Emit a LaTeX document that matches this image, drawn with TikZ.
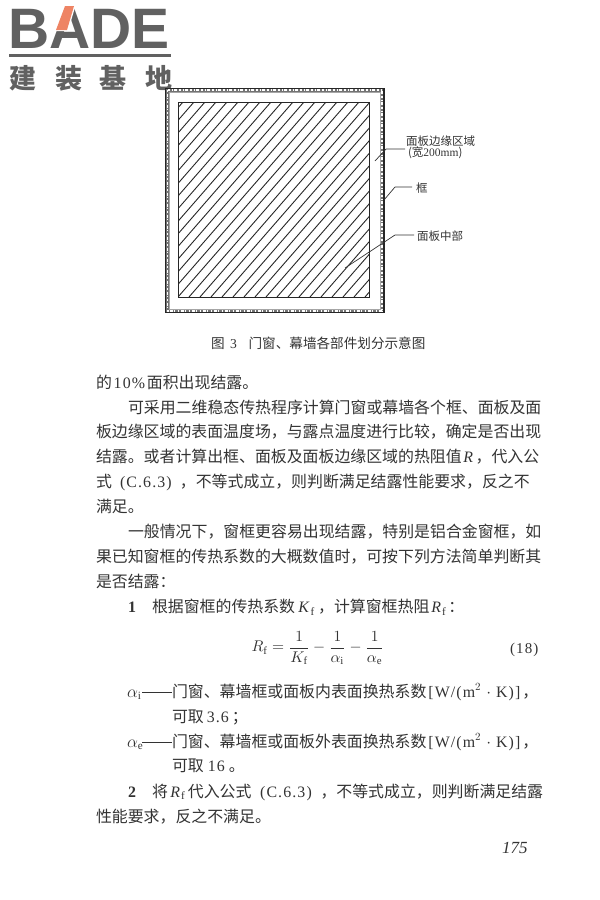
\documentclass[tikz,border=0pt]{standalone}
\usepackage{amsmath}
\usepackage{fontspec}
\setmainfont{Noto Sans CJK SC}
\newfontfamily\latinf{Liberation Serif}
\newfontfamily\latinw[LetterSpace=7]{Liberation Serif}
\newfontfamily\logof{Liberation Sans}
\newcommand{\Lb}[2]{\makebox[#1][c]{\latinw #2}}
\newcommand{\sbf}{\text{\latinf f}}
\newcommand{\sbi}{\text{\latinf i}}
\newcommand{\sbe}{\text{\latinf e}}
\newcommand{\qc}{\char"FF0C\relax}
\newcommand{\qs}{\char"FF1B\relax}
\newcommand{\qk}{\char"FF1A\relax}
\definecolor{ink}{gray}{0.2}
\definecolor{logogray}{gray}{0.38}
\definecolor{logoorange}{RGB}{238,132,100}
\tikzset{
  body/.style={anchor=base west,inner sep=0pt,outer sep=0pt,text=ink,font=\fontsize{15.9}{18}\selectfont},
  note/.style={anchor=west,inner sep=0pt,outer sep=0pt,text=ink,font=\fontsize{11.5}{13}\selectfont},
  capt/.style={anchor=base west,inner sep=0pt,outer sep=0pt,text=ink,font=\fontsize{13.6}{15}\selectfont},
  leader/.style={draw=ink,line width=0.7pt},
  hatchline/.style={draw=black!85,line width=0.9pt},
  logotxt/.style={anchor=base,inner sep=0pt,outer sep=0pt,text=logogray,font=\bfseries\fontsize{27}{29}\selectfont}
}
\begin{document}
\begin{tikzpicture}[x=1pt,y=-1pt]
\useasboundingbox (0,0) rectangle (600,900);
% logo
\node[anchor=base west,inner sep=0pt,text=logogray,font=\logof\bfseries\fontsize{57}{60}\selectfont] (logo) at (8,48) {BADE};
\fill[white] (54,31) -- (64,4) -- (76,4) -- (68,31) -- cycle;
\fill[logoorange] (56,30) -- (65,6) -- (74,6) -- (67,30) -- cycle;
\fill[logogray] (9,53.5) rectangle (171,56.5);
\node[logotxt] (l1) at (23,88) {建};
\node[logotxt] (l2) at (68.5,88) {装};
\node[logotxt] (l3) at (113,88) {基};
\node[logotxt] (l4) at (158.5,88) {地};
% frame
\draw[black!55,line width=3.5pt] (167.5,90) rectangle (382,311);
\draw[white,line width=1.6pt,dash pattern=on 1.5pt off 2pt on 3pt off 1pt on 1pt off 2.5pt] (167.5,90) rectangle (382,311);
\draw[black!85,line width=1.2pt] (165.5,88.5) rectangle (384,312.5);
\draw[black!35,line width=0.5pt] (169.5,92) rectangle (380,309);
% panel centre
\begin{scope}
\clip (178,102) rectangle (369,297);
\foreach \i in {-198,-187,...,198}
  \draw[hatchline] (178+\i,297) -- (178+\i+170,102);
\end{scope}
\draw[black!85,line width=1pt] (178,102) rectangle (369,297);
% labels
\node[note] (edgeA) at (406,141) {面板边缘区域};
\node[note] (edgeB) at (408,153) {(宽{\latinf 200mm})};
\node[note] (frameL) at (416,188) {框};
\node[note] (midL) at (417,236) {面板中部};
\coordinate (edgeP) at (375,161);
\coordinate (frameP) at (384,200);
\coordinate (midP) at (345,268);
\draw[leader] (edgeP) -- (386,149) -- (405,149);
\draw[leader] (frameP) -- (395,187) -- (412,187);
\draw[leader] (midP) -- (395,235) -- (414,235);
% caption
\node[capt] (cap) at (211,348) {图\hspace{3pt}\Lb{12pt}{3}\hspace{9pt}门窗、幕墙各部件划分示意图};
% body
\node[body] (t1) at (96,388.5) {的\Lb{35pt}{10\%}面积出现结露。};
\node[body] (t2) at (128,413.5) {可采用二维稳态传热程序计算门窗或幕墙各个框、面板及面};
\node[body] (t3) at (96,437.5) {板边缘区域的表面温度场\qc 与露点温度进行比较\qc 确定是否出现};
\node[body] (t4) at (96,462.5) {结露。或者计算出框、面板及面板边缘区域的热阻值\Lb{14pt}{\textit{R}}\qc 代入公};
\node[body] (t5) at (96,487.5) {式\Lb{68pt}{(C.6.3)}\qc 不等式成立\qc 则判断满足结露性能要求\qc 反之不};
\node[body] (t6) at (96,512.5) {满足。};
\node[body] (t7) at (128,537.5) {一般情况下\qc 窗框更容易出现结露\qc 特别是铝合金窗框\qc 如};
\node[body] (t8) at (96,562.5) {果已知窗框的传热系数的大概数值时\qc 可按下列方法简单判断其};
\node[body] (t9) at (96,587.5) {是否结露\qk};
\node[body] (t10) at (128,612.5) {\makebox[24pt][l]{\latinf\bfseries 1}根据窗框的传热系数\Lb{23pt}{\textit{K}$_{\sbf}$}\qc 计算窗框热阻\Lb{19pt}{\textit{R}$_{\sbf}$}\qk};
\node[inner sep=0pt,text=ink,scale=1.55] (eq) at (318,648) {$R_{\sbf}=\dfrac{1}{K_{\sbf}}-\dfrac{1}{\alpha_{\sbi}}-\dfrac{1}{\alpha_{\sbe}}$};
\node[anchor=base west,inner sep=0pt,text=ink,font=\latinw\fontsize{15}{17}\selectfont] (eqn) at (510,653) {(18)};
\node[body] (a1) at (127,697) {\makebox[15pt][l]{$\alpha_{\sbi}$}\rule[4.5pt]{30pt}{0.7pt}门窗、幕墙框或面板内表面换热系数\Lb{96pt}{[W/(m$^2$ $\cdot$ K)]}\qc};
\node[body] (a2) at (172,722) {可取\Lb{28pt}{3.6}\qs};
\node[body] (a3) at (127,747) {\makebox[15pt][l]{$\alpha_{\sbe}$}\rule[4.5pt]{30pt}{0.7pt}门窗、幕墙框或面板外表面换热系数\Lb{96pt}{[W/(m$^2$ $\cdot$ K)]}\qc};
\node[body] (a4) at (172,771) {可取\Lb{25pt}{16}。};
\node[body] (b1) at (128,797) {\makebox[24pt][l]{\latinf\bfseries 2}将\Lb{20pt}{\textit{R}$_{\sbf}$}代入公式\Lb{69pt}{(C.6.3)}\qc 不等式成立\qc 则判断满足结露};
\node[body] (b2) at (96,822) {性能要求\qc 反之不满足。};
\node[anchor=base west,inner sep=0pt,text=ink,font=\latinf\itshape\fontsize{17}{19}\selectfont] (pg) at (502,853) {175};
\end{tikzpicture}
\end{document}
